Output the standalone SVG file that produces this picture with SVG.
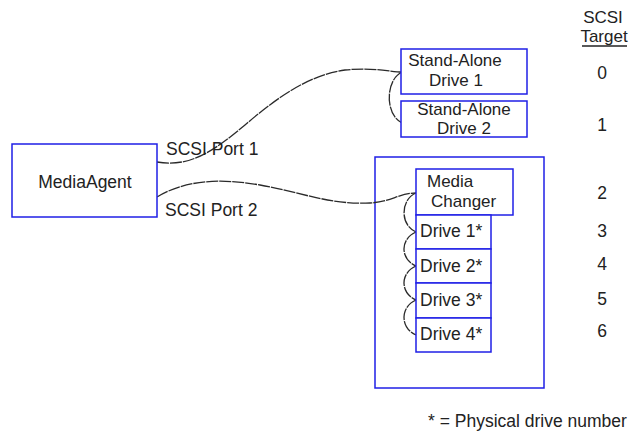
<svg xmlns="http://www.w3.org/2000/svg" width="640" height="436" viewBox="0 0 640 436">
<style>
.box{fill:#fff;stroke:#1f1fe6;stroke-width:1.5}
.t{font-family:"Liberation Sans",Arial,sans-serif;font-size:17.5px;fill:#222}
.s{font-size:17px}
.m{text-anchor:middle}
.cab{fill:none;stroke:#2a2a2a;stroke-width:1.3;stroke-dasharray:12 1}
</style>
<rect width="640" height="436" fill="#fff"/>
<g id="library"><rect class="box" x="375" y="157" width="169" height="231"/></g>
<g id="connectors">
<path class="cab" d="M157,162 C190,168 215,150 245,125 C280,95 310,75 345,70 C375,67 390,72 402,72"/>
<path class="cab" d="M157,197 C185,180 220,178 260,185 C300,192 330,205 370,203 C390,202 400,193 416,193"/>
<path class="cab" d="M402,72 C385,80 385,115 402,123"/>
<path class="cab" d="M416,193 C400,200 400,225 416,232"/>
<path class="cab" d="M416,232 C400,239 400,259 416,266"/>
<path class="cab" d="M416,266 C400,273 400,293 416,300"/>
<path class="cab" d="M416,300 C400,307 400,328 416,335"/>
</g>
<g id="mediaagent"><rect class="box" x="12" y="144" width="145" height="73"/><text class="t m" x="85" y="188">MediaAgent</text></g>
<g id="sa1"><rect class="box" x="401" y="49" width="126" height="45"/><text class="t s m" x="455" y="66">Stand-Alone</text><text class="t s m" x="456" y="86">Drive 1</text></g>
<g id="sa2"><rect class="box" x="401" y="101" width="126" height="36"/><text class="t s m" x="464" y="115">Stand-Alone</text><text class="t s m" x="464" y="134">Drive 2</text></g>
<g id="mc"><rect class="box" x="416" y="169" width="97" height="46"/><text class="t s" x="427" y="187">Media</text><text class="t s" x="431" y="207">Changer</text></g>
<g id="d1"><rect class="box" x="416" y="215" width="75" height="34"/><text class="t" x="420" y="237">Drive 1*</text></g>
<g id="d2"><rect class="box" x="416" y="249" width="75" height="34"/><text class="t" x="420" y="272">Drive 2*</text></g>
<g id="d3"><rect class="box" x="416" y="283" width="75" height="35"/><text class="t" x="420" y="306">Drive 3*</text></g>
<g id="d4"><rect class="box" x="416" y="318" width="75" height="34"/><text class="t" x="420" y="340">Drive 4*</text></g>
<g id="labels">
<text class="t" x="166" y="155">SCSI Port 1</text>
<text class="t" x="165" y="216">SCSI Port 2</text>
<text class="t s m" x="603" y="23">SCSI</text>
<text class="t s m" x="604" y="42">Target</text>
<line x1="582" y1="46" x2="627" y2="46" stroke="#222" stroke-width="1.3"/>
<text class="t m" x="602" y="79">0</text>
<text class="t m" x="602" y="131">1</text>
<text class="t m" x="602" y="199">2</text>
<text class="t m" x="602" y="237">3</text>
<text class="t m" x="602" y="270">4</text>
<text class="t m" x="602" y="305">5</text>
<text class="t m" x="602" y="337">6</text>
<text class="t" x="428" y="427">* = Physical drive number</text>
</g>
</svg>
